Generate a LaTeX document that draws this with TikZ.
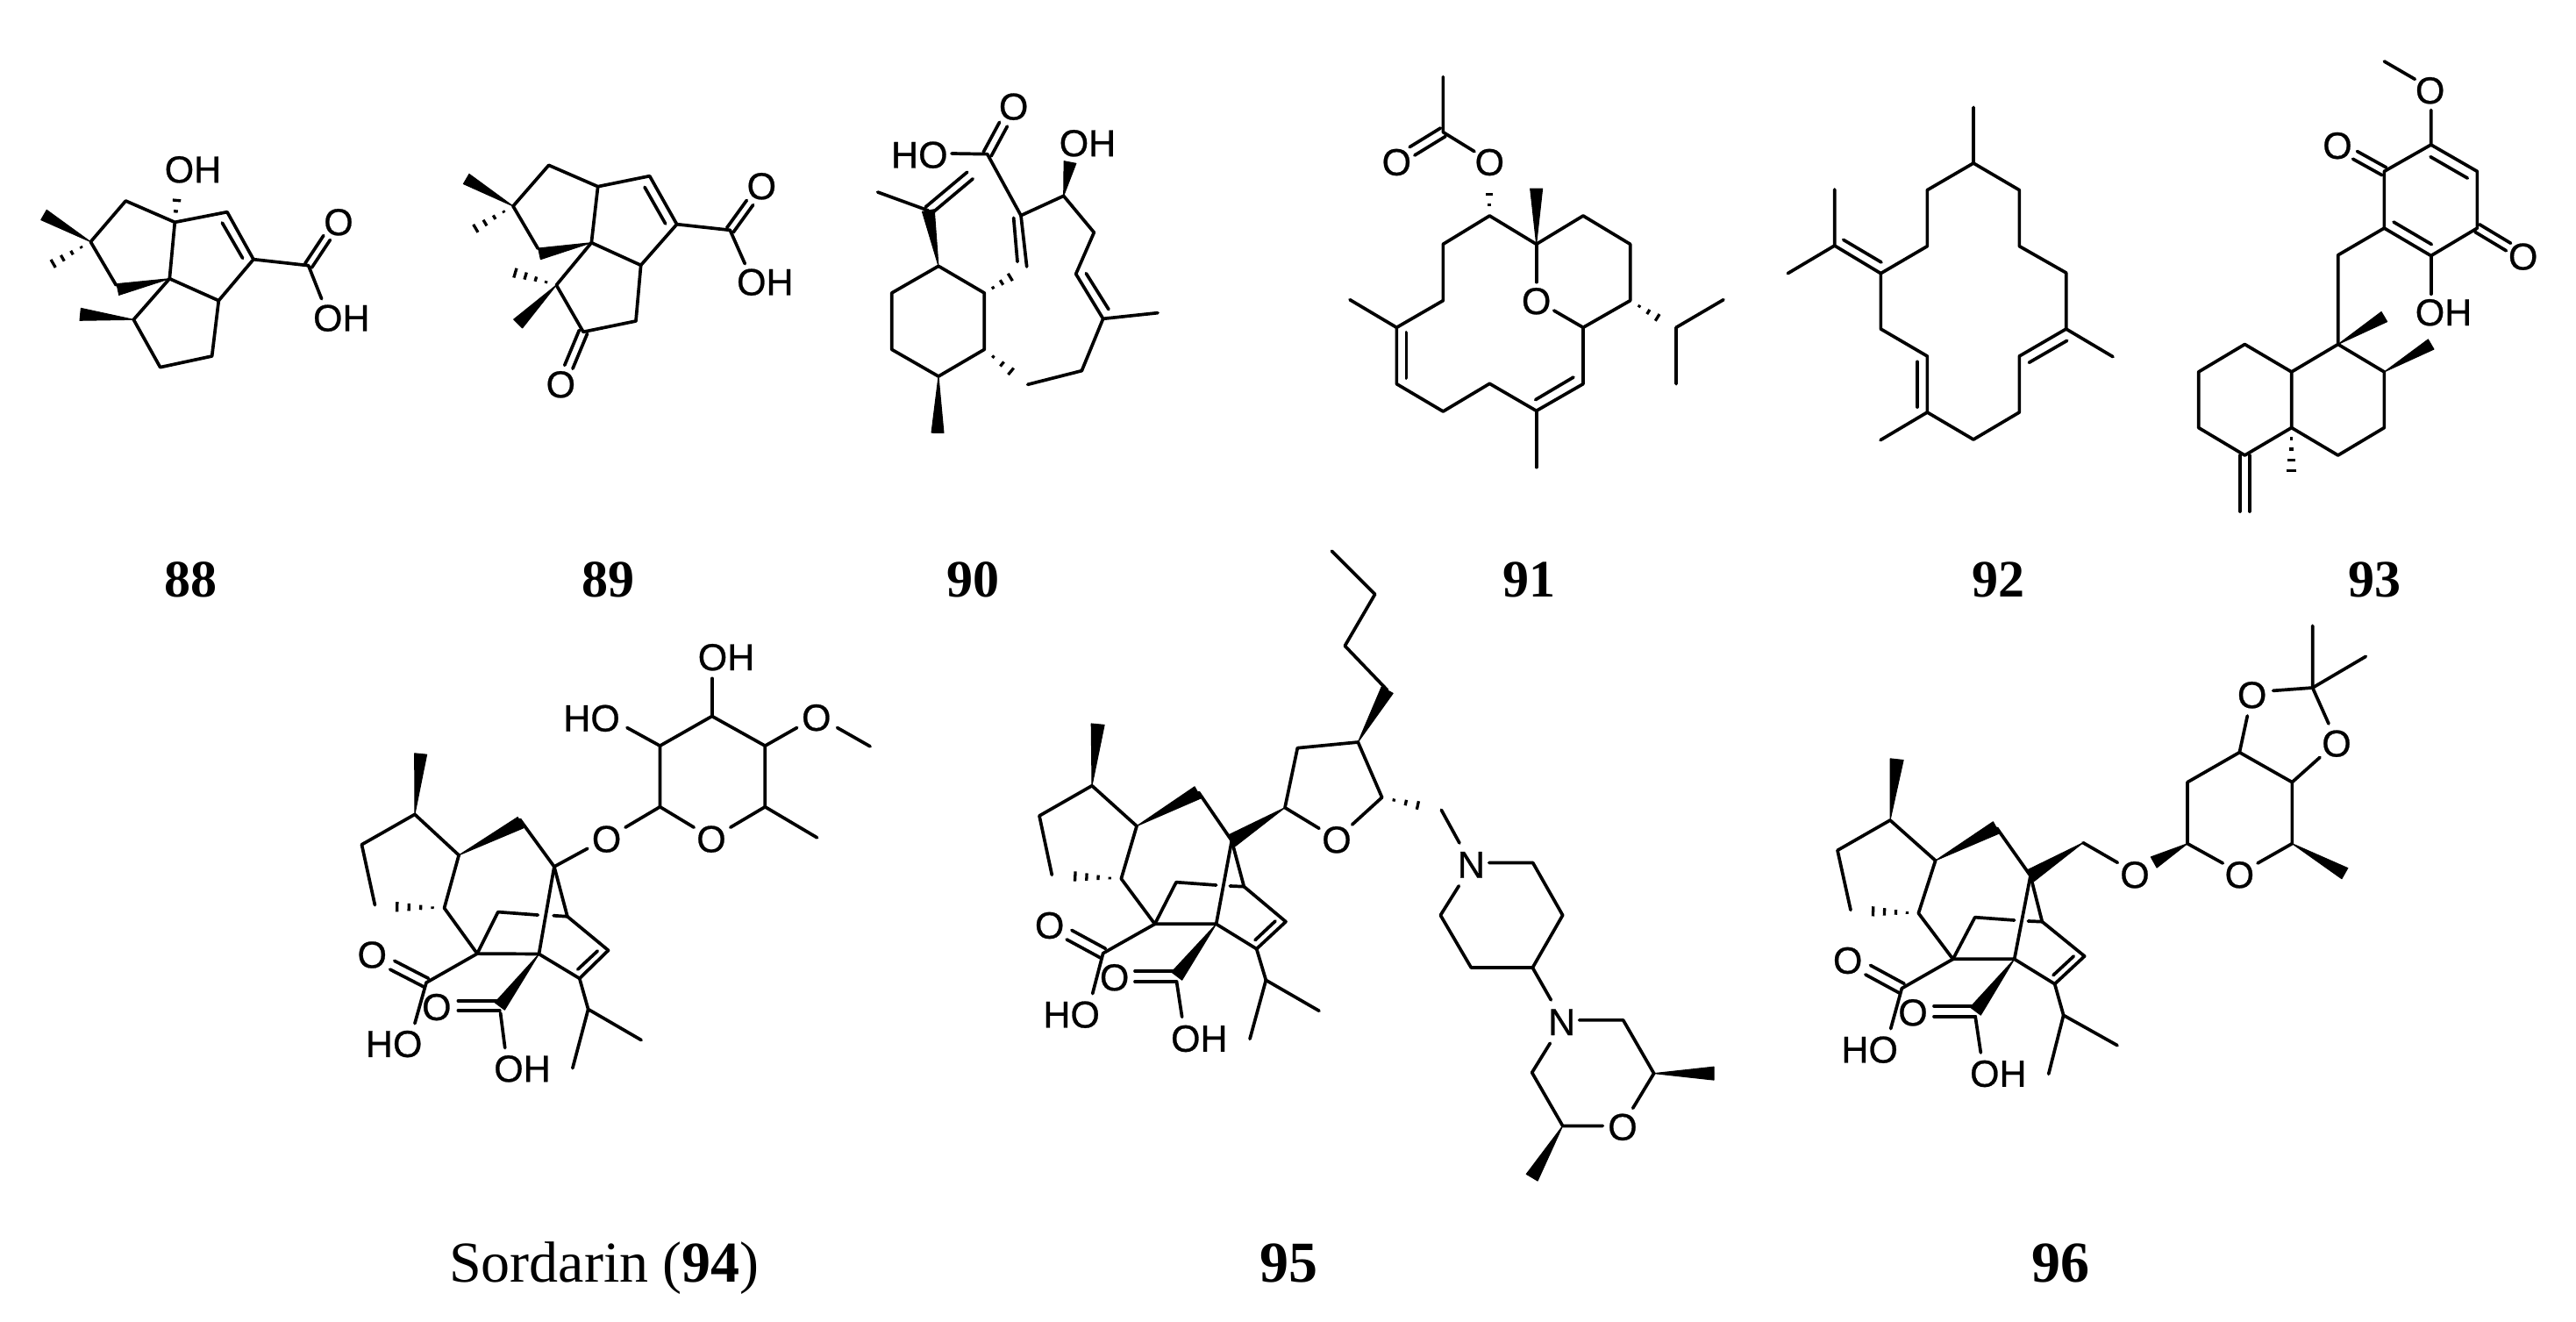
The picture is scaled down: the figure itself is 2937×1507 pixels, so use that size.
\documentclass[tikz,border=0pt]{standalone}
\usepackage{fontspec}
\setmainfont{Liberation Serif}
\newfontfamily\lblfont[FakeBold=0.6]{Liberation Sans}
\usetikzlibrary{calc}
\tikzset{
  bond/.style={line width=3.7pt,line cap=round,line join=round,black},
  hashl/.style={line width=3.3pt,line cap=butt,black},
  wedgef/.style={fill=black,draw=black,line width=1pt,line join=round},
  lbl/.style={font=\lblfont\fontsize{43}{43}\selectfont,inner sep=0pt,anchor=center},
  captxt/.style={font=\fontsize{66}{68}\selectfont,inner sep=0pt,anchor=base},
  capb/.style={font=\bfseries\fontsize{60}{62}\selectfont,inner sep=0pt,anchor=base},
  capc/.style={font=\bfseries\fontsize{66}{68}\selectfont,inner sep=0pt,anchor=base},
  zm/.style={x=0.33333pt,y=-0.33333pt}
}
\newcommand{\atoms}[1]{\foreach \n/\ax/\ay in {#1}{\coordinate (\n) at (\ax,\ay);}}
\newcommand{\wdg}[3]{\path[wedgef] (#1) -- ($(#2)!#3!90:(#1)$) -- ($(#2)!#3!-90:(#1)$) -- cycle;}
\newcommand{\hsh}[4]{\foreach \ii in {1,...,#4}{\pgfmathsetmacro\tta{\ii/#4}\pgfmathsetmacro\hha{\tta*#3}
  \draw[hashl] ($(#1)!\tta!(#2)!\hha pt!90:(#2)$) -- ($(#1)!\tta!(#2)!\hha pt!-90:(#2)$);}}
\newcommand{\dbl}[3]{\draw[bond] ($(#1)!#3!90:(#2)$) -- ($(#2)!#3!-90:(#1)$);
  \draw[bond] ($(#1)!#3!-90:(#2)$) -- ($(#2)!#3!90:(#1)$);}
\begin{document}
\begin{tikzpicture}[x=1pt,y=-1pt]
\useasboundingbox (0,0) rectangle (2937,1507);
% ---------- 88
\begin{scope}[name prefix=m88-,shift={(0,130)},zm]
\atoms{a/310/437,b/430/297,c/598/370,d/777/335,e/867/497,f/748/638,g/580/563,h/397/585,hw/403/600,i/457/703,j/548/866,k/725/828,l/1055/518,
 me1/150/345,me2/150/530,me3/275/685,oh1/608/258,ei/760/372,ej/830/493,co/1118/423,oh2e/1100/632}
\draw[bond] (a)--(b)--(c)--(d)--(e)--(f)--(g)--(c);
\draw[bond] (a)--(h); \draw[bond] (g)--(i)--(j)--(k)--(f);
\draw[bond] (e)--(l)--(oh2e); \draw[bond] (ei)--(ej);
\dbl{l}{co}{4.5pt}
\wdg{a}{me1}{6.5pt} \hsh{a}{me2}{6.5}{5} \wdg{g}{hw}{6.5pt} \wdg{i}{me3}{7pt} \hsh{c}{oh1}{7}{3}
\node[lbl] (oh) at (660,190) {OH};
\node[lbl] (o) at (1158,370) {O};
\node[lbl] (oh2) at (1168,698) {OH};
\end{scope}
% ---------- 89
\begin{scope}[name prefix=m89-,shift={(480,130)},zm]
\atoms{a/315/315,b/437/175,c/605/248,d/782/212,e/875/377,f/752/517,g/583/440,h/400/460,hw/405/478,i/463/585,j/555/745,k/735/708,l/1057/397,
 me1/155/222,me2/155/410,me3/287/533,me4/332/717,ei/765/250,ej/836/375,co/1125/303,oh2e/1108/512,ko/505/865}
\draw[bond] (a)--(b)--(c)--(d)--(e)--(f)--(g)--(c);
\draw[bond] (a)--(h); \draw[bond] (g)--(i)--(j)--(k)--(f);
\draw[bond] (e)--(l)--(oh2e); \draw[bond] (ei)--(ej);
\dbl{l}{co}{4.5pt} \dbl{j}{ko}{5pt}
\wdg{a}{me1}{6.5pt} \hsh{a}{me2}{6.5}{5} \wdg{g}{hw}{6.5pt} \hsh{i}{me3}{7}{5} \wdg{i}{me4}{7pt}
\node[lbl] (o1) at (478,925) {O};
\node[lbl] (o2) at (1165,247) {O};
\node[lbl] (oh) at (1177,575) {OH};
\end{scope}
% ---------- 90
\begin{scope}[name prefix=m90-,shift={(960,80)},zm]
\atoms{r1/330/670,r2/487/762,r3/487/955,r4/330/1047,r5/170/955,r6/170/762,p/295/480,pm/122/417,pc/438/360,me/327/1240,
 h1/605/690,h2/608/1055,a/635/1075,b/820/1028,c/893/850,cm/1080/830,d/800/697,e/862/555,f/758/430,g/612/497,ge/632/672,gi1/587/505,gi2/600/655,
 oh/780/315,di/835/695,dj/912/818,k/497/287,hoe/375/285,ko/552/185}
\draw[bond] (r1)--(r2)--(r3)--(r4)--(r5)--(r6)--(r1);
\draw[bond] (pm)--(p);
\dbl{p}{pc}{5pt}
\wdg{r1}{p}{7pt} \wdg{r4}{me}{7pt} \hsh{r2}{h1}{6.5}{4} \hsh{r3}{h2}{6.5}{4}
\draw[bond] (a)--(b)--(c)--(d)--(e)--(f)--(g)--(ge);
\draw[bond] (c)--(cm); \draw[bond] (di)--(dj); \draw[bond] (gi1)--(gi2);
\draw[bond] (g)--(k)--(hoe);
\dbl{k}{ko}{5pt}
\wdg{f}{oh}{7pt}
\node[lbl] (lhoh) at (840,250) {OH};
\node[lbl] (lho) at (265,290) {HO};
\node[lbl] (lo) at (587,125) {O};
\end{scope}
% ---------- 91
\begin{scope}[name prefix=m91-,shift={(1520,60)},zm]
\atoms{c1/376/83,c2/376/272,co/270/337,oe/483/338,oh/535/447,c3/535/558,c4/695/655,wm/695/465,c5/855/558,c6/1016/655,c7/1016/848,c8/855/940,
 o1e/695/785,o2e/755/882,hs/1140/925,c9/1173/940,c9a/1335/845,c9b/1173/1133,c10/855/1133,c11/695/1225,i1/692/1187,i2/822/1110,m11/695/1418,
 c12/535/1132,c13/376/1227,c14/217/1133,c15/217/940,i3/250/957,i4/250/1113,m15/57/845,c16/376/848,c17/376/655}
\draw[bond] (c1)--(c2)--(oe);
\dbl{c2}{co}{5.5pt}
\hsh{c3}{oh}{6}{3}
\wdg{c4}{wm}{7pt}
\draw[bond] (c3)--(c4)--(c5)--(c6)--(c7)--(c8)--(o2e); \draw[bond] (c4)--(o1e);
\hsh{c7}{hs}{6}{4}
\draw[bond] (c9a)--(c9)--(c9b);
\draw[bond] (c8)--(c10)--(c11)--(c12)--(c13)--(c14)--(c15)--(c16)--(c17)--(c3);
\draw[bond] (c11)--(m11); \draw[bond] (c15)--(m15);
\draw[bond] (i1)--(i2); \draw[bond] (i3)--(i4);
\node[lbl] (lo1) at (217,375) {O};
\node[lbl] (lo2) at (535,375) {O};
\node[lbl] (lo3) at (695,850) {O};
\end{scope}
% ---------- 92
\begin{scope}[name prefix=m92-,shift={(2000,100)},zm]
\atoms{a/750/258,t/750/67,b/907/350,c/907/542,d/1067/633,e/1067/825,f/907/918,fi/940/940,ei/1070/865,em/1227/920,g/907/1110,h/750/1203,i/592/1110,
 im/432/1205,j/592/918,ji/558/937,ii/558/1092,k/433/825,l/433/635,m/592/542,n/592/350,o/275/540,oi/305/520,li/435/597,o1/275/348,o2/115/635}
\draw[bond] (t)--(a)--(b)--(c)--(d)--(e)--(f)--(g)--(h)--(i)--(j)--(k)--(l)--(m)--(n)--(a);
\draw[bond] (e)--(em); \draw[bond] (fi)--(ei); \draw[bond] (i)--(im); \draw[bond] (ji)--(ii);
\draw[bond] (l)--(o)--(o1); \draw[bond] (o)--(o2); \draw[bond] (oi)--(li);
\end{scope}
% ---------- 93
\begin{scope}[name prefix=m93-,shift={(2440,30)},x=0.33333pt,y=-0.3699pt]
\atoms{me/835/108,mo/940/163,oe/995/258,r1/995/365,r2/1153/447,r3/1153/622,r4/995/707,r5/835/622,r6/835/447,i1/993/402,i2/1120/468,i3/867/603,i4/997/672,
 o6/735/397,o3/1260/680,ohe/995/825,ch/677/705,c1/677/980,w1/835/895,c2/835/1065,w2/995/980,c3/835/1237,c4/677/1322,c5/518/1237,c6/518/1065,c7/358/980,c8/200/1065,c9/200/1237,c10/358/1322,
 cm/358/1495,hs/518/1403}
\draw[bond] (me)--(mo); \draw[bond] (oe)--(r1)--(r2)--(r3)--(r4)--(r5)--(r6)--(r1);
\draw[bond] (i1)--(i2); \draw[bond] (i3)--(i4); \draw[bond] (r4)--(ohe);
\dbl{r6}{o6}{5pt} \dbl{r3}{o3}{5pt}
\draw[bond] (r5)--(ch)--(c1)--(c2)--(c3)--(c4)--(c5)--(c6)--(c1);
\draw[bond] (c6)--(c7)--(c8)--(c9)--(c10)--(c5);
\dbl{c10}{cm}{5.5pt}
\wdg{c1}{w1}{6.5pt} \wdg{c2}{w2}{6.5pt} \hsh{c5}{hs}{7}{5}
\node[lbl] (lo1) at (992,198) {O};
\node[lbl] (lo2) at (675,368) {O};
\node[lbl] (lo3) at (1310,710) {O};
\node[lbl] (lo4) at (1038,882) {OH};
\end{scope}
% ---------- 94
\begin{scope}[name prefix=m94-,shift={(380,720)},x=0.39541pt,y=-0.34439pt]
\atoms{s1/942/378,s2/1092/280,s3/1245/378,s4/1245/580,s4o/1145/648,s6o/1040/648,s6/942/580,hoe/847/318,ohe/1092/155,ome/1337/318,om1/1453/318,om2/1548/380,sm/1395/682,
 lo1/842/648,lo2/733/718,c1/637/778,w/538/622,ww/540/632,t/362/740,m1/235/605,mw/252/405,a/82/705,b/120/905,h1/320/915,hs/150/910,q/415/1066,e/475/928,e2/590/938,e3/635/940,f/675/943,g/793/1055,i/710/1148,ii1/705/1118,ii2/762/1057,
 r/593/1067,cw/480/1240,ck/480/1238,co/360/1238,ocb/482/1262,oce/495/1378,c2/268/1162,c2o/170/1104,hb/235/1297,ip/735/1250,ip1/888/1352,ip2/690/1445}
\draw[bond] (s1)--(s2)--(s3)--(s4)--(s4o); \draw[bond] (s6o)--(s6)--(s1);
\draw[bond] (s1)--(hoe); \draw[bond] (s2)--(ohe); \draw[bond] (s3)--(ome); \draw[bond] (om1)--(om2); \draw[bond] (s4)--(sm);
\draw[bond] (s6)--(lo1); \draw[bond] (lo2)--(c1);
\wdg{t}{ww}{7pt}
\draw[bond] (w)--(c1);
\wdg{m1}{mw}{7pt} \hsh{h1}{hs}{7}{5}
\draw[bond] (t)--(m1)--(a)--(b);
\draw[bond] (t)--(h1)--(q)--(e)--(e2); \draw[bond] (e3)--(f)--(c1);
\draw[bond] (f)--(g)--(i)--(r)--(q); \draw[bond] (r)--(c1); \draw[bond] (ii1)--(ii2);
\wdg{r}{cw}{7pt}
\dbl{ck}{co}{5.5pt} \draw[bond] (ocb)--(oce);
\draw[bond] (q)--(c2)--(hb); \dbl{c2}{c2o}{5.5pt}
\draw[bond] (i)--(ip)--(ip1); \draw[bond] (ip)--(ip2);
\node[lbl] (l1) at (745,287) {HO};
\node[lbl] (l2) at (1133,85) {OH};
\node[lbl] (l3) at (1393,285) {O};
\node[lbl] (l4) at (788,687) {O};
\node[lbl] (l5) at (1090,687) {O};
\node[lbl] (l6) at (298,1243) {O};
\node[lbl] (l7) at (545,1447) {OH};
\node[lbl] (l8) at (112,1070) {O};
\node[lbl] (l9) at (175,1365) {HO};
\end{scope}
% ---------- 95
\begin{scope}[name prefix=m95-,shift={(1160,760)},zm]
\atoms{m1/255/407,mw/275/197,a/75/510,b/118/712,h1/355/725,hs/158/715,t/408/545,ww/617/430,w/620/430,c1/733/595,q/470/880,e/543/737,e2/680/747,e3/727/750,f/775/752,g/918/872,i/818/965,ii1/813/935,ii2/882/870,
 r/680/880,cw/545/1058,ck/545/1059,co/402/1059,ocb/545/1080,oce/563/1198,c2/293/980,c2o/177/917,hb/257/1118,ip/850/1072,ip1/1032/1177,ip2/795/1273,
 f1/915/482,f2/958/278,f3/1165/258,f4/1247/447,fo/1145/540,f1o/1032/553,bw/1265/80,hs2/1410/483,nc/1450/490,ne/1512/603}
\wdg{m1}{mw}{7.5pt} \hsh{h1}{hs}{7}{5} \wdg{t}{ww}{7.5pt} \wdg{f1}{c1}{7.5pt}
\draw[bond] (t)--(m1)--(a)--(b);
\draw[bond] (w)--(c1);
\draw[bond] (t)--(h1)--(q)--(e)--(e2); \draw[bond] (e3)--(f)--(c1);
\draw[bond] (f)--(g)--(i)--(r)--(q); \draw[bond] (r)--(c1); \draw[bond] (ii1)--(ii2);
\wdg{r}{cw}{7.5pt}
\dbl{ck}{co}{6pt} \draw[bond] (ocb)--(oce);
\draw[bond] (q)--(c2)--(hb); \dbl{c2}{c2o}{6pt}
\draw[bond] (i)--(ip)--(ip1); \draw[bond] (ip)--(ip2);
\draw[bond] (f1o)--(f1)--(f2)--(f3)--(f4)--(fo);
\wdg{f3}{bw}{7.5pt} \hsh{f4}{hs2}{6.5}{4}
\draw[bond] (nc)--(ne);
\node[lbl] (l1) at (1092,592) {O};
\node[lbl] (l2) at (332,1063) {O};
\node[lbl] (l3) at (622,1272) {OH};
\node[lbl] (l4) at (110,885) {O};
\node[lbl] (l5) at (185,1190) {HO};
\end{scope}
\begin{scope}[name prefix=m95-,shift={(1480,620)},x=0.33333pt,y=-0.4783pt]
\atoms{b1/160/243,b2/263/120,b3/115/17,n1/653/760,p1/803/760,p2/905/885,p3/802/1010,p4/592/1010,p5/487/885,p6/550/815,n2c/865/1087,
 q1/962/1135,q2/1112/1135,q3/1217/1262,qw/1422/1262,q4/1145/1345,q5/1042/1387,q6/905/1387,q7/800/1260,q8/862/1190,qw2/800/1510}
\draw[bond] (bw)--(b1)--(b2)--(b3);
\draw[bond] (n1)--(p1)--(p2)--(p3)--(p4)--(p5)--(p6); \draw[bond] (p3)--(n2c);
\draw[bond] (q1)--(q2)--(q3)--(q4); \draw[bond] (q5)--(q6)--(q7)--(q8);
\wdg{q3}{qw}{7.5pt} \wdg{q6}{qw2}{7.5pt}
\node[lbl] (l6) at (592,765) {N};
\node[lbl] (l7) at (902,1140) {N};
\node[lbl] (l8) at (1110,1390) {O};
\end{scope}
% ---------- 96
\begin{scope}[name prefix=m96-,shift={(2060,800)},zm]
\atoms{m1/285/405,mw/308/197,a/105/508,b/150/712,h1/382/723,hs/188/715,t/440/543,ww/648/430,w/650/432,c1/765/595,q/500/880,e/575/737,e2/710/747,e3/757/750,f/805/752,g/950/870,i/848/965,ii1/843/935,ii2/913/870,
 r/710/880,cw/577/1058,ck/577/1058,co/435/1058,ocb/577/1080,oce/595/1200,c2/325/980,c2o/209/917,hb/287/1118,ip/878/1072,ip1/1062/1175,ip2/827/1273,
 f1/945/482,f1o/1063/550}
\wdg{m1}{mw}{7.5pt} \hsh{h1}{hs}{7}{5} \wdg{t}{ww}{7.5pt} \wdg{f1}{c1}{7.5pt}
\draw[bond] (t)--(m1)--(a)--(b);
\draw[bond] (w)--(c1);
\draw[bond] (t)--(h1)--(q)--(e)--(e2); \draw[bond] (e3)--(f)--(c1);
\draw[bond] (f)--(g)--(i)--(r)--(q); \draw[bond] (r)--(c1); \draw[bond] (ii1)--(ii2);
\wdg{r}{cw}{7.5pt}
\dbl{ck}{co}{6pt} \draw[bond] (ocb)--(oce);
\draw[bond] (q)--(c2)--(hb); \dbl{c2}{c2o}{6pt}
\draw[bond] (i)--(ip)--(ip1); \draw[bond] (ip)--(ip2);
\draw[bond] (f1)--(f1o);
\node[lbl] (l2) at (363,1063) {O};
\node[lbl] (l3) at (655,1272) {OH};
\node[lbl] (l4) at (140,885) {O};
\node[lbl] (l5) at (215,1190) {HO};
\end{scope}
\begin{scope}[name prefix=m96-,shift={(2340,680)},zm]
\atoms{u1/462/845,u2/462/635,u3/640/533,u4/820/635,u5/820/845,u6/583/912,u7/702/912,u8/667/408,v1/755/322,v2/890/312,v3/890/100,v4/1072/205,v5/945/435,v6/915/550,uww/347/909,uw2/1000/947}
\draw[bond] (u6)--(u1)--(u2)--(u3)--(u4)--(u5)--(u7);
\draw[bond] (u3)--(u8); \draw[bond] (v1)--(v2)--(v3); \draw[bond] (v2)--(v4); \draw[bond] (v2)--(v5); \draw[bond] (v6)--(u4);
\wdg{u1}{uww}{7pt} \wdg{u5}{uw2}{7pt}
\node[lbl] (l1) at (282,952) {O};
\node[lbl] (l6) at (640,952) {O};
\node[lbl] (l7) at (683,337) {O};
\node[lbl] (l8) at (972,503) {O};
\end{scope}
% ---------- captions
\node[capb] (c88) at (217,680) {88};
\node[capb] (c89) at (693,680) {89};
\node[capb] (c90) at (1109,680) {90};
\node[capb] (c91) at (1743,680) {91};
\node[capb] (c92) at (2278,680) {92};
\node[capb] (c93) at (2707,680) {93};
\node[captxt] (c94) at (689,1461) {Sordarin (\textbf{94})};
\node[capc] (c95) at (1469,1461) {95};
\node[capc] (c96) at (2349,1461) {96};
\end{tikzpicture}
\end{document}
